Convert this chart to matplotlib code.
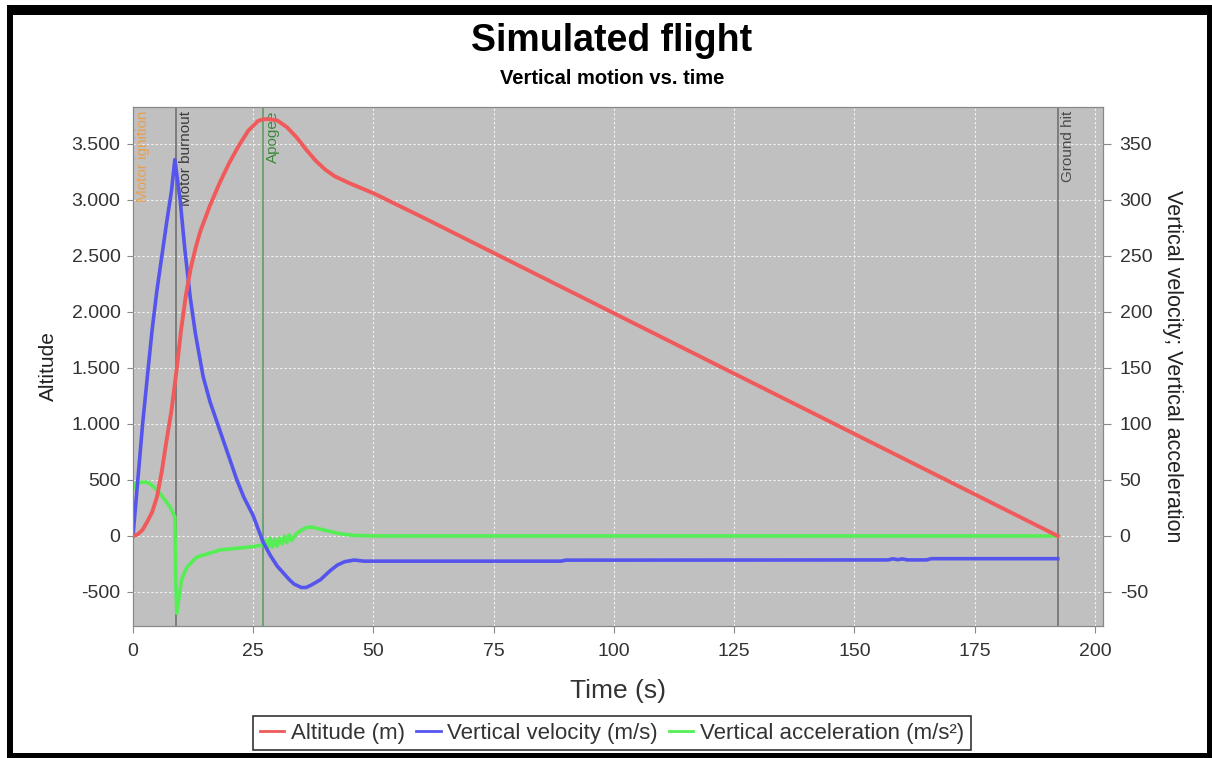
import matplotlib
matplotlib.use("Agg")
import matplotlib.pyplot as plt
from matplotlib.patches import Rectangle
from matplotlib.lines import Line2D
from matplotlib.ticker import MultipleLocator, FuncFormatter
from matplotlib.transforms import blended_transform_factory

plt.rcParams['font.family'] = ['Liberation Sans', 'DejaVu Sans']
plt.rcParams['axes.unicode_minus'] = False

# altitude (m) vs time (s)
alt_t = [0, 1, 2, 3, 4, 5, 6, 7, 8, 9, 10, 11, 12, 13, 14, 16, 18, 20, 22, 24,
         26, 27, 28, 30, 32, 34, 36, 38, 40, 42, 45, 50, 60, 192.3]
alt_m = [0, 15, 55, 130, 215, 350, 580, 860, 1120, 1460, 1840, 2150, 2390, 2570, 2720, 2950, 3150, 3330, 3485, 3620,
         3705, 3720, 3722, 3710, 3650, 3560, 3450, 3350, 3270, 3210, 3150, 3060, 2850, 0]

# vertical velocity (m/s)
vel_t = [0, 1, 2, 3, 4, 5, 6, 7, 8, 8.7, 9.8, 10.8, 11.9, 13, 14.6, 16, 18, 20, 21.6, 23,
         25, 27, 28.5, 30, 32.5, 33.5, 35, 36, 37, 39, 41, 42.5, 44, 46, 48, 60,
         89, 90, 94, 157, 158, 159, 160, 161, 165, 166, 192.3]
vel_ms = [0, 50, 100, 143, 185, 220, 250, 280, 308, 336, 300, 255, 213, 180, 142, 120, 95, 70, 50, 35,
          18, -5, -17, -27, -39, -43, -46, -46, -44, -39, -31, -26, -23, -21.5, -22.5, -22.5,
          -22.5, -21.6, -21.6, -21.4, -20.4, -21.2, -20.5, -21.4, -21.4, -20.3, -20.3]

# vertical acceleration (m/s²)
acc_t = [0, 0.5, 2, 3, 4, 5.6, 7.7, 8.7, 8.9, 9.1, 10.1, 11.2, 13.2, 18.1, 25, 27, 27.5, 28, 28.5, 29,
         29.5, 30, 30.5, 31, 31.5, 32, 32.5, 33, 34, 35, 36, 37, 38, 40, 43, 46, 50, 192.3]
acc_ms2 = [42, 47, 48, 48, 45, 38, 26, 17, -40, -69, -39, -28, -19, -12.5, -9.5, -8, -4, -11, -2, -10,
           -3, -9, -2, -7, 0, -6, 1, -4, 2, 5, 7.5, 8, 7, 5, 2, 0.5, 0, 0]

event_names = ['Motor ignition', 'Motor burnout', 'Apogee', 'Ground hit']
event_times = [0.0, 8.9, 27.0, 192.3]
event_line_colors = ['#e0a050', '#6a6a6a', '#5a9a5a', '#6a6a6a']
event_text_colors = ['#e8a050', '#3c3c3c', '#3a8a3a', '#4a4a4a']

series_labels = ['Altitude (m)', 'Vertical velocity (m/s)', 'Vertical acceleration (m/s²)']
series_colors = ['#f05a5a', '#5555ee', '#55ee55']

fig = plt.figure(figsize=(12.12, 7.58), dpi=100)
fig.patch.set_facecolor('white')

ax = fig.add_axes([133 / 1212, 1 - 626 / 758, 970 / 1212, 519 / 758])
ax2 = ax.twinx()

# altitude axis on top, background + grid on the twin
ax.set_zorder(ax2.get_zorder() + 1)
ax.patch.set_visible(False)
ax2.patch.set_visible(True)
ax2.patch.set_facecolor('#c0c0c0')
ax2.xaxis.set_visible(True)
ax2.tick_params(axis='x', bottom=False, top=False, labelbottom=False, labeltop=False)

ax.set_xlim(0, 201.7)
ax.set_ylim(-804, 3830)
ax2.set_ylim(-80.4, 383)

ax.xaxis.set_major_locator(MultipleLocator(25))
ax2.xaxis.set_major_locator(MultipleLocator(25))
ax.yaxis.set_major_locator(MultipleLocator(500))
ax2.yaxis.set_major_locator(MultipleLocator(50))
ax.yaxis.set_major_formatter(FuncFormatter(lambda v, p: f"{int(round(v)):,}".replace(",", ".")))

ax2.grid(True, color='#f4f4f4', linestyle=(0, (2, 2)), linewidth=0.8, zorder=0)
ax2.set_axisbelow(True)

for sp in ['left', 'right', 'top', 'bottom']:
    ax.spines[sp].set_color('#888888')
    ax2.spines[sp].set_color('#888888')

ax.tick_params(axis='y', direction='out', length=4, color='#888888', labelcolor='#333333',
               labelsize=14, pad=5)
ax.tick_params(axis='x', direction='out', length=5, color='#888888', labelcolor='#333333',
               labelsize=14, pad=7)
ax2.tick_params(axis='y', direction='out', length=6, color='#888888', labelcolor='#333333',
                labelsize=14, pad=6)

# event markers
tr = blended_transform_factory(ax2.transData, ax2.transAxes)
for name, t, lc, tc in zip(event_names, event_times, event_line_colors, event_text_colors):
    ax2.axvline(t, color=lc, linewidth=1.1, zorder=1)
    ax2.text(t + 0.7, 0.993, name, transform=tr, rotation=90, ha='left', va='top',
             fontsize=11, color=tc, zorder=1)

ax2.plot(acc_t, acc_ms2, color=series_colors[2], linewidth=2.6, zorder=2)
ax2.plot(vel_t, vel_ms, color=series_colors[1], linewidth=2.6, zorder=3)
ax.plot(alt_t, alt_m, color=series_colors[0], linewidth=2.8, zorder=4)

ax.set_xlabel('Time (s)', fontsize=19, color='#333333', labelpad=14)
ax.set_ylabel('Altitude', fontsize=15, color='#222222', labelpad=10)
ax2.set_ylabel('Vertical velocity; Vertical acceleration', fontsize=15.5, color='#222222',
               rotation=270, labelpad=22)

fig.text(0.505, 1 - 41 / 758, 'Simulated flight', ha='center', va='center',
         fontsize=27, fontweight='bold', color='black')
fig.text(0.505, 1 - 78 / 758, 'Vertical motion vs. time', ha='center', va='center',
         fontsize=14.5, fontweight='bold', color='black')

handles = [Line2D([], [], color=c, linewidth=2) for c in series_colors]
leg = fig.legend(handles, series_labels, loc='center', bbox_to_anchor=(0.505, 1 - 733 / 758),
                 ncol=3, frameon=True, fancybox=False, edgecolor='black', fontsize=16,
                 handlelength=1.1, handletextpad=0.3, columnspacing=0.5, borderpad=0.3)
leg.get_frame().set_linewidth(1.2)
for txt in leg.get_texts():
    txt.set_color('#333333')

# black screenshot border
W, H = 1212, 758
for x0, y0, w, h in [(7, 5, 1205, 10), (7, 5, 6, 753), (1207, 5, 5, 753), (7, 753, 1205, 5)]:
    fig.patches.append(Rectangle((x0 / W, 1 - (y0 + h) / H), w / W, h / H,
                                 transform=fig.transFigure, facecolor='black', edgecolor='none'))

fig.savefig('out.png', dpi=100)
